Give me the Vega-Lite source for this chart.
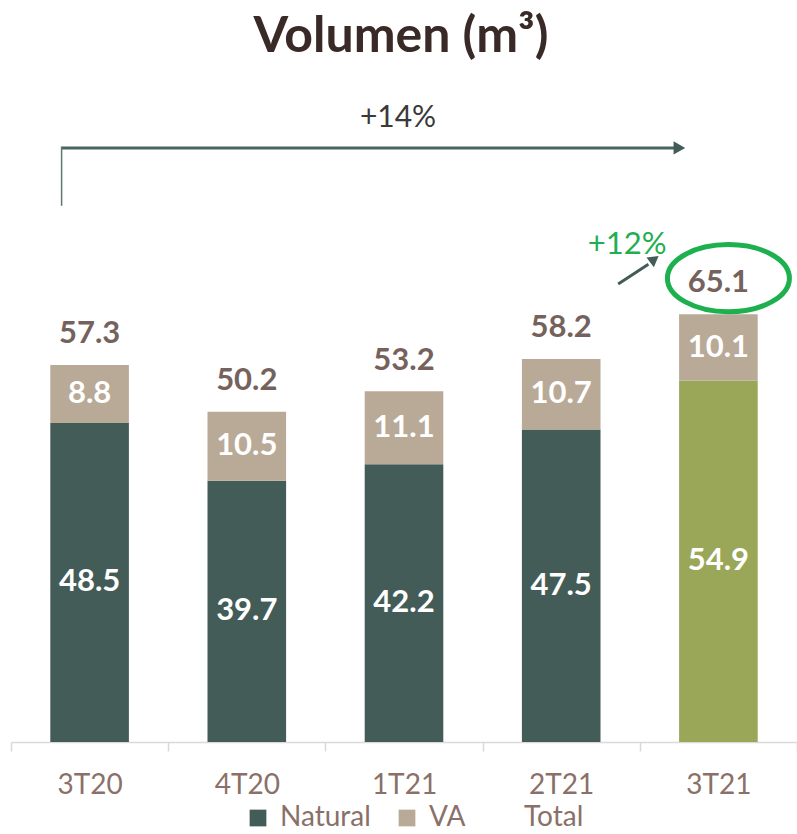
{
  "$schema": "https://vega.github.io/schema/vega-lite/v6.json",
  "autosize": "none",
  "width": 786,
  "height": 652,
  "padding": {"left": 11, "top": 90, "right": 0, "bottom": 92},
  "background": "white",
  "config": {"view": {"stroke": null}, "font": "Lato"},
  "title": {"text": "Volumen (m³)", "fontSize": 50, "fontWeight": "bold", "color": "#3A2A27", "anchor": "middle", "offset": 28, "font": "Lato", "dx": -3},
  "datasets": {
    "segs": [
      {"q": "3T20", "serie": "Natural", "v": 48.5, "ord": 1},
      {"q": "3T20", "serie": "VA", "v": 8.8, "ord": 2},
      {"q": "4T20", "serie": "Natural", "v": 39.7, "ord": 1},
      {"q": "4T20", "serie": "VA", "v": 10.5, "ord": 2},
      {"q": "1T21", "serie": "Natural", "v": 42.2, "ord": 1},
      {"q": "1T21", "serie": "VA", "v": 11.1, "ord": 2},
      {"q": "2T21", "serie": "Natural", "v": 47.5, "ord": 1},
      {"q": "2T21", "serie": "VA", "v": 10.7, "ord": 2},
      {"q": "3T21", "serie": "Natural", "v": 54.9, "ord": 1},
      {"q": "3T21", "serie": "VA", "v": 10.1, "ord": 2}
    ],
    "totals": [
      {"q": "3T20", "serie": "Total", "total": 57.3},
      {"q": "4T20", "serie": "Total", "total": 50.2},
      {"q": "1T21", "serie": "Total", "total": 53.2},
      {"q": "2T21", "serie": "Total", "total": 58.2},
      {"q": "3T21", "serie": "Total", "total": 65.1}
    ]
  },
  "encoding": {
    "x": {
      "field": "q", "type": "nominal", "sort": ["3T20", "4T20", "1T21", "2T21", "3T21"],
      "scale": {"paddingInner": 0, "paddingOuter": 0},
      "axis": {
        "title": null, "labelAngle": 0, "tickBand": "extent", "domainColor": "#D9D9D9", "domainWidth": 1.5,
        "tickColor": "#D9D9D9", "tickWidth": 1.5, "tickSize": 9, "labelFontSize": 28, "labelColor": "#8A7068",
        "labelPadding": 20, "labelFont": "Lato"
      }
    }
  },
  "layer": [
    {
      "data": {"name": "segs"},
      "mark": {"type": "bar", "width": {"band": 0.5}},
      "encoding": {
        "y": {"field": "v", "type": "quantitative", "stack": "zero", "scale": {"domain": [0, 99.1], "nice": false, "zero": true}, "axis": null},
        "order": {"field": "ord", "type": "quantitative"},
        "color": {
          "condition": {"test": "datum.q === '3T21' && datum.serie === 'Natural'", "value": "#9AA658"},
          "field": "serie", "type": "nominal",
          "scale": {"domain": ["Natural", "VA", "Total"], "range": ["#435C58", "#B9AA98", "#FFFFFF"]},
          "legend": {
            "title": null, "orient": "none", "legendX": 233, "legendY": 714, "direction": "horizontal", "symbolType": "square", "symbolSize": 280,
            "labelFontSize": 28, "labelColor": "#8A7068", "labelFont": "Lato", "columnPadding": 22, "labelOffset": 8,
            "symbolStrokeWidth": 0
          }
        }
      }
    },
    {
      "data": {"name": "segs"},
      "mark": {"type": "text", "fontSize": 31, "fontWeight": "bold", "color": "white", "baseline": "middle", "font": "Lato"},
      "encoding": {
        "y": {"field": "v", "type": "quantitative", "stack": "zero", "bandPosition": 0.5},
        "order": {"field": "ord", "type": "quantitative"},
        "detail": {"field": "serie"},
        "text": {"field": "v", "type": "quantitative", "format": ".1f"}
      }
    },
    {
      "data": {"name": "totals"},
      "mark": {"type": "text", "fontSize": 31, "fontWeight": "bold", "color": "#76625C", "baseline": "alphabetic", "dy": -22, "font": "Lato"},
      "encoding": {
        "y": {"field": "total", "type": "quantitative"},
        "text": {"field": "total", "type": "quantitative", "format": ".1f"}
      }
    },
    {
      "data": {"values": [{}]},
      "mark": {"type": "text", "fontSize": 30, "color": "#3A3A3A", "baseline": "middle", "dx": -6, "font": "Lato"},
      "encoding": {"x": {"datum": "1T21"}, "y": {"datum": 94.8}, "text": {"value": "+14%"}}
    },
    {
      "data": {"values": [{}]},
      "mark": {"type": "rule", "color": "#4A6560", "strokeWidth": 3, "xOffset": -28, "x2Offset": -40},
      "encoding": {"x": {"datum": "3T20"}, "x2": {"datum": "3T21"}, "y": {"datum": 90.3}}
    },
    {
      "data": {"values": [{}]},
      "mark": {"type": "rule", "color": "#5E7773", "strokeWidth": 1.5, "xOffset": -28},
      "encoding": {"x": {"datum": "3T20"}, "y": {"datum": 90.5}, "y2": {"datum": 81.5}}
    },
    {
      "data": {"values": [{}]},
      "mark": {"type": "point", "shape": "triangle-right", "filled": true, "opacity": 1, "color": "#435C58", "size": 180, "xOffset": -39},
      "encoding": {"x": {"datum": "3T21"}, "y": {"datum": 90.3}}
    },
    {
      "data": {"values": [{}]},
      "mark": {"type": "text", "fontSize": 31, "color": "#1FAF50", "baseline": "middle", "dx": 66, "font": "Lato"},
      "encoding": {"x": {"datum": "2T21"}, "y": {"datum": 75.6}, "text": {"value": "+12%"}}
    },
    {
      "data": {"values": [{}]},
      "mark": {"type": "rule", "color": "#435C58", "strokeWidth": 3, "xOffset": 57, "x2Offset": -70},
      "encoding": {"x": {"datum": "2T21"}, "x2": {"datum": "3T21"}, "y": {"datum": 69.6}, "y2": {"datum": 72.6}}
    },
    {
      "data": {"values": [{}]},
      "mark": {"type": "point", "shape": "triangle-up", "angle": 53, "filled": true, "opacity": 1, "color": "#435C58", "size": 150, "xOffset": -64},
      "encoding": {"x": {"datum": "3T21"}, "y": {"datum": 73.4}}
    },
    {
      "data": {"values": [{}]},
      "mark": {"type": "point", "shape": "M -1 0 A 1 0.55 0 1 0 1 0 A 1 0.55 0 1 0 -1 0 Z", "filled": false, "opacity": 1, "color": "#1DB04F", "strokeWidth": 5, "size": 14884, "xOffset": 10},
      "encoding": {"x": {"datum": "3T21"}, "y": {"datum": 70.5}}
    }
  ]
}
